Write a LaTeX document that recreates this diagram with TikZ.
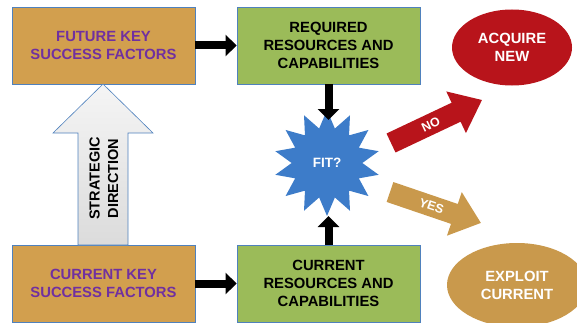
\documentclass[tikz,border=0pt]{standalone}
\usepackage{fontspec}
\setmainfont{Liberation Sans}
\usetikzlibrary{shapes.geometric,arrows.meta}
\definecolor{tanbox}{HTML}{D29F4E}
\definecolor{grnbox}{HTML}{9BBB59}
\definecolor{bord}{HTML}{4F81BD}
\definecolor{purp}{HTML}{7030A0}
\definecolor{redc}{HTML}{B8141B}
\definecolor{tanell}{HTML}{C9994C}
\definecolor{starc}{HTML}{3D7CC9}
\tikzset{
  box/.style={draw=bord, line width=0.8pt, minimum width=183pt, minimum height=77pt,
    align=center, inner sep=0pt, font=\bfseries\fontsize{14.8}{18.3}\selectfont},
  ksf/.style={box, fill=tanbox, text=purp},
  resbox/.style={box, fill=grnbox, text=black},
  blk/.style={line width=8pt, draw=black, -{Triangle[length=11pt,width=21pt]}},
  ell/.style={ellipse, align=center, inner sep=0pt, text=white,
    font=\bfseries\fontsize{14.8}{18}\selectfont},
  arrlabel/.style={text=white, inner sep=0pt, font=\bfseries\fontsize{12.5}{14}\selectfont},
}
\begin{document}
\begin{tikzpicture}[x=1pt,y=1pt]
\useasboundingbox (0,0) rectangle (577,322);
\clip (0,0) rectangle (577,322);
% boxes
\node[ksf] (fut) at (103.5,276.5) {FUTURE KEY\\SUCCESS FACTORS};
\node[resbox] (req) at (328.5,276.5) {REQUIRED\\RESOURCES AND\\CAPABILITIES};
\node[ksf] (cur) at (103.5,38.5) {CURRENT KEY\\SUCCESS FACTORS};
\node[resbox] (cres) at (328.5,38.5) {CURRENT\\RESOURCES AND\\CAPABILITIES};
% strategic direction arrow
\draw[draw=bord, line width=0.6pt, top color=gray!8, bottom color=gray!28]
  (78,77) -- (78,189) -- (53,189) -- (103,238) -- (153,189) -- (128,189) -- (128,77) -- cycle;
\node[rotate=90, align=center, font=\bfseries\fontsize{14.5}{18.5}\selectfont] (strat) at (104,143.5) {STRATEGIC\\DIRECTION};
% fit star
\node[star, star points=14, star point ratio=1.5, minimum size=106pt, inner sep=0pt,
  fill=starc, text=white, font=\bfseries\fontsize{13.5}{15}\selectfont] (fit) at (327,159) {FIT?};
\coordinate (fitN) at (328.5,202);
\coordinate (fitS) at (328.5,106);
% ellipses
\node[ell, fill=redc, minimum width=120pt, minimum height=76pt] (acq) at (512,274.5) {ACQUIRE\\NEW};
\node[ell, fill=tanell, minimum width=140pt, minimum height=84pt] (expl) at (517,37) {EXPLOIT\\CURRENT};
% NO arrow
\begin{scope}[shift={(391,179)}, rotate=25.3]
  \fill[redc] (0,-10.5) -- (72,-10.5) -- (72,-23) -- (100.6,0) -- (72,23) -- (72,10.5) -- (0,10.5) -- cycle;
  \node[arrlabel, rotate=25.3] (no) at (44,0) {NO};
\end{scope}
% YES arrow
\begin{scope}[shift={(390,130)}, rotate=-18.8]
  \fill[tanell] (0,-10.5) -- (68,-10.5) -- (68,-23) -- (96,0) -- (68,23) -- (68,10.5) -- (0,10.5) -- cycle;
  \node[arrlabel, rotate=-18.8] (yes) at (44,0) {YES};
\end{scope}
% black connectors
\draw[blk] (fut.east) -- (req.west);
\draw[blk] (cur.east) -- (cres.west);
\draw[blk] (req.south) -- (fitN);
\draw[blk] (cres.north) -- (fitS);
\end{tikzpicture}
\end{document}
